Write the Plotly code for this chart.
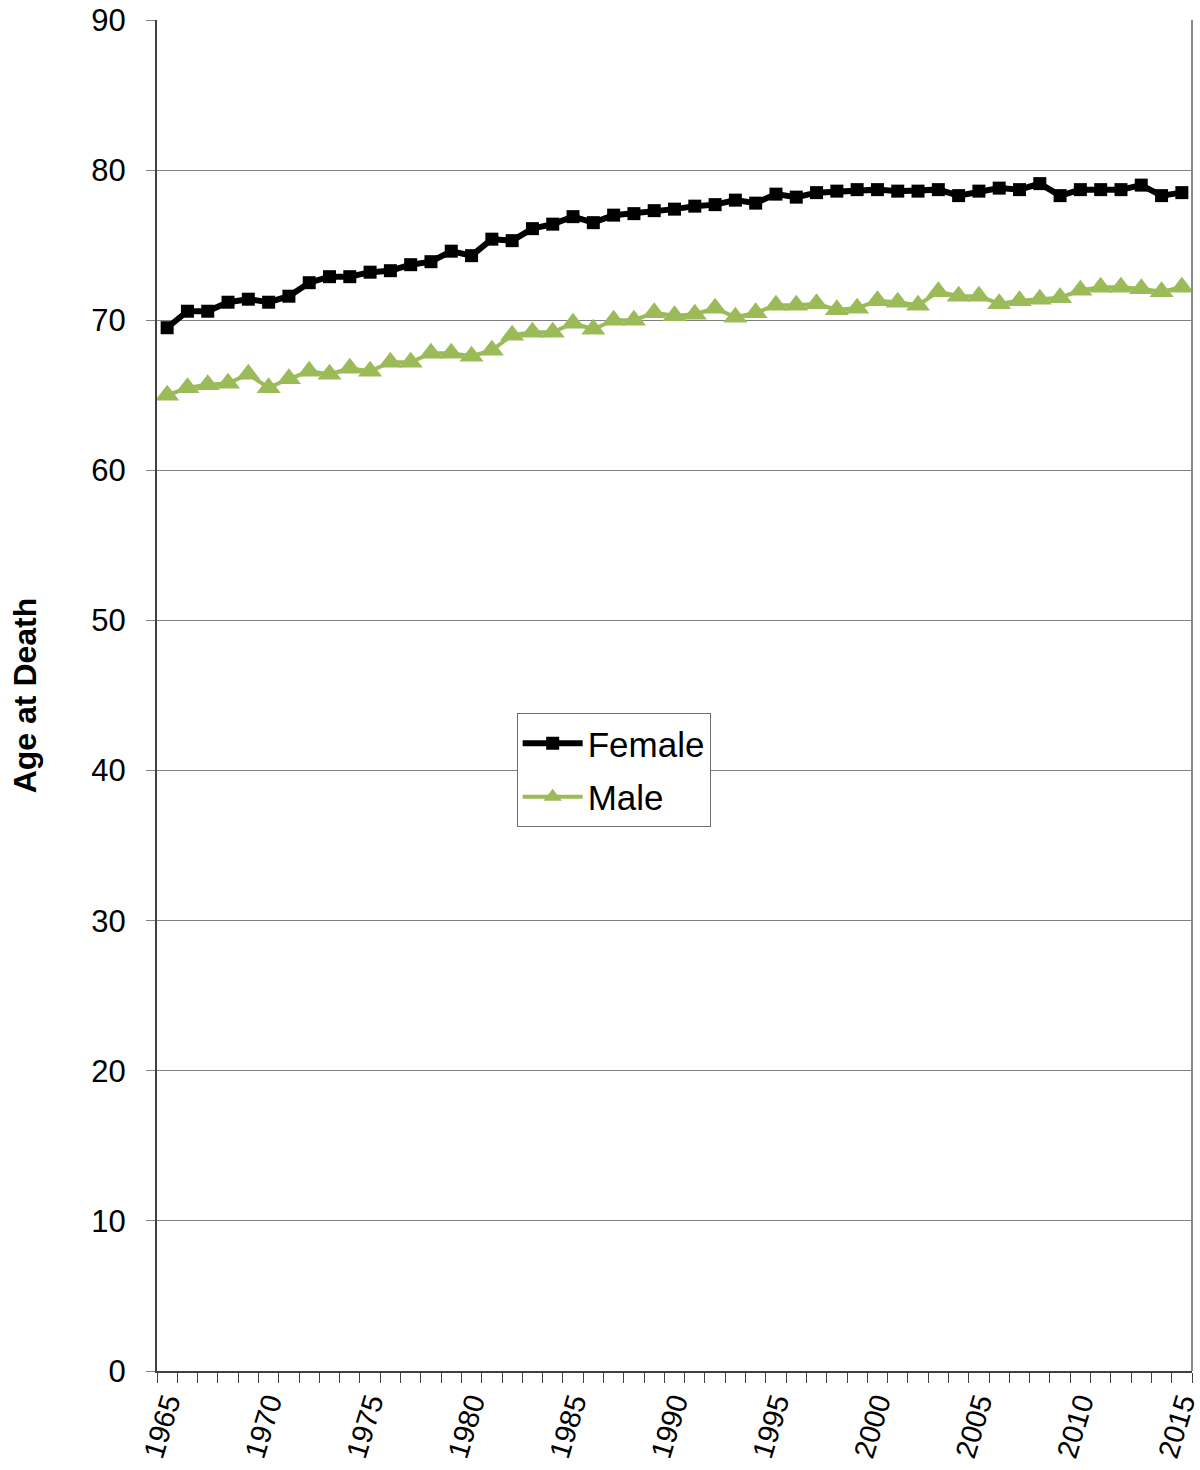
import plotly.graph_objects as go

years = list(range(1965, 2016))
female = [69.5, 70.6, 70.6, 71.2, 71.4, 71.2, 71.6, 72.5, 72.9, 72.9,
          73.2, 73.3, 73.7, 73.9, 74.6, 74.3, 75.4, 75.3, 76.1, 76.4,
          76.9, 76.5, 77.0, 77.1, 77.3, 77.4, 77.6, 77.7, 78.0, 77.8,
          78.4, 78.2, 78.5, 78.6, 78.7, 78.7, 78.6, 78.6, 78.7, 78.3,
          78.6, 78.8, 78.7, 79.1, 78.3, 78.7, 78.7, 78.7, 79.0, 78.3, 78.5]
male = [65.0, 65.5, 65.7, 65.8, 66.4, 65.5, 66.1, 66.6, 66.4, 66.8,
        66.6, 67.2, 67.2, 67.8, 67.8, 67.6, 68.0, 69.0, 69.2, 69.2,
        69.8, 69.4, 70.0, 70.0, 70.5, 70.3, 70.4, 70.8, 70.2, 70.5,
        71.0, 71.0, 71.1, 70.7, 70.8, 71.3, 71.2, 71.0, 71.9, 71.6,
        71.6, 71.1, 71.3, 71.4, 71.5, 72.0, 72.2, 72.2, 72.1, 71.9, 72.2]
label_years = [1965, 1970, 1975, 1980, 1985, 1990, 1995, 2000, 2005, 2010, 2015]
y_ticks = [0, 10, 20, 30, 40, 50, 60, 70, 80, 90]

FONT = "Liberation Sans, Arial, sans-serif"

fig = go.Figure()
fig.add_trace(go.Scatter(
    x=years, y=female, name="Female", mode="lines+markers", legendgroup="f",
    line=dict(color="#000000", width=6),
    marker=dict(symbol="square", size=13, color="#000000"),
))
fig.add_trace(go.Scatter(
    x=years, y=male, name="Male", mode="lines+markers", legendgroup="m",
    line=dict(color="#9BBB59", width=4),
    marker=dict(symbol="triangle-up", size=21, color="#9BBB59"),
))

fig.update_layout(
    width=1200, height=1470,
    margin=dict(l=157, r=8, t=20, b=99, autoexpand=False),
    paper_bgcolor="white", plot_bgcolor="white",
    font=dict(family=FONT, color="#000000", size=30),
    showlegend=True,
    legend=dict(
        x=0.3475, y=0.487, xanchor="left", yanchor="top",
        bgcolor="white", bordercolor="#6e6e6e", borderwidth=1,
        font=dict(family=FONT, size=35, color="#000000"),
        tracegroupgap=5, itemwidth=60,
    ),
)

fig.update_xaxes(
    range=[1964.5, 2015.5],
    tickmode="array",
    tickvals=label_years,
    ticktext=[str(y) for y in label_years],
    tickangle=-73,
    ticks="",
    ticklabelstandoff=1,
    ticklabeloverflow="allow",
    automargin=False,
    minor=dict(ticks="outside", ticklen=10, tickcolor="#404040", tick0=1964.5, dtick=1, showgrid=False),
    showgrid=False, zeroline=False,
    showline=True, linecolor="#404040", linewidth=2,
    tickfont=dict(family=FONT, size=29, color="#000000"),
)
fig.update_yaxes(
    range=[0, 90],
    tickmode="array", tickvals=y_ticks,
    ticks="outside", ticklen=9, tickcolor="#808080",
    ticklabelstandoff=14,
    ticklabeloverflow="allow",
    automargin=False,
    showgrid=True, gridcolor="#808080", gridwidth=1,
    zeroline=False,
    showline=True, linecolor="#404040", linewidth=2,
    tickfont=dict(family=FONT, size=31, color="#000000"),
    title=dict(text="<b>Age at Death</b>", font=dict(family=FONT, size=32, color="#000000"), standoff=45),
)
fig.add_shape(type="line", xref="paper", yref="paper", x0=1, x1=1, y0=0, y1=1,
              line=dict(color="#8a8a8a", width=2))

fig.write_html("out.html", config={"displayModeBar": False},
               post_script="document.body.style.margin='0px';")
